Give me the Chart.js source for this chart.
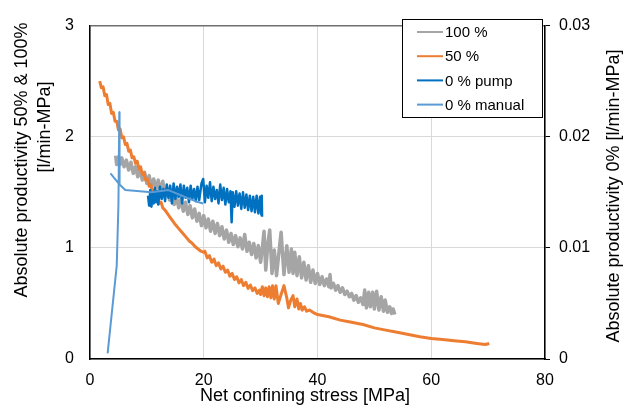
<!DOCTYPE html>
<html>
<head>
<meta charset="utf-8">
<script src="https://cdn.jsdelivr.net/npm/chart.js@4.4.1/dist/chart.umd.min.js"></script>
<style>
  html, body { margin: 0; padding: 0; background: #fff; }
  #wrap { position: relative; width: 625px; height: 410px; }
</style>
</head>
<body>
<div id="wrap"><canvas id="chart" width="625" height="410"></canvas></div>
<script>
// stress [MPa] / productivity
const grayX = [4.5, 4.7, 5.0, 5.3, 5.6, 6.0, 6.4, 6.8, 7.2, 7.6, 8.0, 8.4, 8.8, 9.2, 9.6, 10.0, 10.4, 10.8, 11.2, 11.6,
  12.0, 12.4, 12.8, 13.2, 13.6, 14.0, 14.4, 14.8, 15.2, 15.6, 16.0, 16.4, 16.8, 17.2, 17.6, 18.0, 18.4, 18.8, 19.2, 19.6,
  20.0, 20.4, 20.8, 21.2, 21.6, 22.0, 22.4, 22.8, 23.2, 23.6, 24.0, 24.4, 24.8, 25.2, 25.6, 26.0, 26.4, 26.8, 27.2, 27.6,
  28.0, 28.4, 28.8, 29.2, 29.6, 30.0, 30.3, 30.6, 30.9, 31.3, 31.6, 32.0, 32.4, 32.8, 33.2, 33.6, 34.1, 34.6, 35.0, 35.4,
  35.7, 36.0, 36.4, 36.8, 37.2, 37.6, 38.0, 38.4, 38.8, 39.2, 39.6, 40.0, 40.4, 40.8, 41.2, 41.6, 42.0, 42.2, 42.4, 42.8,
  43.2, 43.6, 44.0, 44.4, 44.8, 45.2, 45.6, 46.0, 46.4, 46.8, 47.2, 47.6, 48.0, 48.3, 48.6, 49.0, 49.3, 49.7, 50.0, 50.4,
  50.8, 51.2, 51.6, 51.9, 52.3, 52.7, 53.0, 53.3, 53.6];
const grayY = [1.83, 1.75, 1.82, 1.75, 1.81, 1.73, 1.79, 1.70, 1.77, 1.67, 1.73, 1.64, 1.70, 1.61, 1.68, 1.58, 1.65, 1.55, 1.62, 1.53,
  1.61, 1.50, 1.60, 1.47, 1.53, 1.43, 1.49, 1.39, 1.46, 1.36, 1.44, 1.33, 1.41, 1.30, 1.38, 1.27, 1.35, 1.24, 1.31, 1.20,
  1.29, 1.18, 1.26, 1.15, 1.24, 1.13, 1.22, 1.11, 1.19, 1.08, 1.16, 1.05, 1.13, 1.03, 1.11, 1.01, 1.09, 0.99, 1.12, 0.97,
  1.05, 0.94, 1.04, 0.91, 1.02, 0.87, 1.00, 1.15, 0.80, 1.05, 1.16, 0.77, 0.98, 0.75, 0.95, 1.14, 0.76, 1.02, 0.78, 0.99,
  0.77, 0.96, 0.75, 0.92, 0.73, 0.87, 0.71, 0.84, 0.69, 0.80, 0.68, 0.77, 0.67, 0.74, 0.66, 0.72, 0.65, 0.76, 0.64, 0.68,
  0.62, 0.66, 0.60, 0.64, 0.58, 0.61, 0.56, 0.59, 0.53, 0.57, 0.51, 0.55, 0.49, 0.62, 0.46, 0.60, 0.47, 0.60, 0.45, 0.61,
  0.44, 0.56, 0.43, 0.53, 0.42, 0.47, 0.41, 0.45, 0.40];

const orangeX = [1.7, 2.0, 2.3, 2.6, 2.9, 3.2, 3.5, 3.8, 4.1, 4.4, 4.7, 5.0, 5.3, 5.6, 5.9, 6.2, 6.5, 6.8, 7.1, 7.4,
  7.7, 8.0, 8.3, 8.6, 8.9, 9.2, 9.5, 9.8, 10.1, 10.4, 10.7, 11.0, 11.3, 11.6, 11.9, 12.2, 12.5, 12.8, 13.2, 13.6,
  14.0, 14.5, 15.0, 15.5, 16.0, 16.5, 17.0, 17.5, 18.0, 18.5, 19.0, 19.5, 20.0, 20.2, 20.6, 21.0, 21.4, 21.8, 22.2, 22.6,
  23.0, 23.4, 23.8, 24.2, 24.6, 25.0, 25.4, 25.8, 26.2, 26.6, 27.0, 27.4, 27.8, 28.2, 28.6, 29.0, 29.4, 29.8, 30.0, 30.3,
  30.6, 30.9, 31.2, 31.5, 31.8, 32.1, 32.4, 32.7, 33.1, 33.6, 34.1, 34.6, 34.9, 35.3, 35.7, 36.0, 36.4, 36.7, 37.0, 37.3,
  37.7, 38.1, 38.6, 39.2, 40.0, 42.0, 44.0, 46.0, 48.0, 50.0, 52.0, 54.0, 56.0, 58.0, 60.0, 62.0, 64.0, 66.0, 68.0, 69.5, 70.2];
const orangeY = [2.50, 2.44, 2.45, 2.37, 2.38, 2.29, 2.30, 2.21, 2.22, 2.14, 2.14, 2.06, 2.07, 1.99, 2.00, 1.93, 1.94, 1.87, 1.88, 1.81,
  1.82, 1.76, 1.78, 1.71, 1.73, 1.66, 1.675, 1.61, 1.62, 1.555, 1.57, 1.50, 1.515, 1.45, 1.465, 1.40, 1.41, 1.36, 1.34, 1.31,
  1.28, 1.245, 1.21, 1.18, 1.15, 1.12, 1.09, 1.06, 1.04, 1.01, 0.99, 0.97, 0.96, 0.97, 0.91, 0.93, 0.87, 0.90, 0.84, 0.865,
  0.81, 0.835, 0.78, 0.80, 0.745, 0.77, 0.715, 0.74, 0.685, 0.715, 0.66, 0.69, 0.635, 0.665, 0.615, 0.64, 0.59, 0.62, 0.58, 0.65,
  0.57, 0.64, 0.56, 0.65, 0.55, 0.66, 0.54, 0.66, 0.50, 0.58, 0.66, 0.55, 0.46, 0.53, 0.57, 0.47, 0.54, 0.45, 0.50, 0.44,
  0.47, 0.43, 0.44, 0.42, 0.40, 0.38, 0.35, 0.33, 0.31, 0.28, 0.26, 0.24, 0.22, 0.20, 0.185, 0.175, 0.165, 0.155, 0.14, 0.13, 0.14];

const pumpX = [10.2, 10.4, 10.6, 10.8, 11.0, 11.2, 11.4, 11.6, 11.8, 12.0, 12.3, 12.6, 12.9, 13.2, 13.5, 13.8, 14.1, 14.4, 14.7, 15.0,
  15.3, 15.6, 15.9, 16.2, 16.5, 16.8, 17.1, 17.4, 17.7, 18.0, 18.3, 18.6, 18.9, 19.2, 19.6, 19.9, 20.2, 20.5, 20.8, 21.1,
  21.4, 21.7, 22.0, 22.3, 22.6, 22.9, 23.2, 23.5, 23.8, 24.1, 24.4, 24.7, 24.9, 25.1, 25.4, 25.7, 26.0, 26.3, 26.6, 26.9,
  27.2, 27.5, 27.8, 28.1, 28.4, 28.7, 29.0, 29.3, 29.6, 29.9, 30.1, 30.2, 30.25];
const pumpY = [0.0147, 0.0138, 0.0152, 0.0137, 0.0150, 0.0140, 0.0154, 0.0141, 0.0151, 0.0139, 0.0155, 0.0144, 0.0153, 0.0142, 0.0157, 0.0145, 0.0156, 0.0140, 0.0158, 0.0144,
  0.0155, 0.0146, 0.0157, 0.0140, 0.0156, 0.0145, 0.0154, 0.0141, 0.0156, 0.0144, 0.0153, 0.0142, 0.0155, 0.0143, 0.0158, 0.0162, 0.0141, 0.0156, 0.0145, 0.0159,
  0.0142, 0.0155, 0.0144, 0.0152, 0.0140, 0.0157, 0.0143, 0.0154, 0.0139, 0.0153, 0.0141, 0.0151, 0.0123, 0.0150, 0.0137, 0.0151, 0.0138, 0.0149, 0.0135, 0.0150,
  0.0136, 0.0148, 0.0134, 0.0147, 0.0133, 0.0146, 0.0132, 0.0147, 0.0131, 0.0146, 0.0130, 0.0147, 0.0128];

const manualX = [3.6, 5.2, 5.2, 3.1, 4.7, 5.0, 5.15, 5.2, 6.2, 10.8, 13.8, 18.5, 19.9];
const manualY = [0.0167, 0.0157, null, 0.0005, 0.0084, 0.0139, 0.0222, 0.0157, 0.0152, 0.0150, 0.0152, 0.0142, 0.0140];

const xTicks = [0, 20, 40, 60, 80];
const yTicks = [0, 1, 2, 3];
const y1Ticks = [0, 0.01, 0.02, 0.03];
const y1Labels = ['0', '0.01', '0.02', '0.03'];

const FONT = '"Liberation Sans", Arial, sans-serif';

function pts(xs, ys) {
  return xs.map((x, i) => ({ x: x, y: ys[i] }));
}

const axisTitles = {
  id: 'axisTitles',
  afterDraw(chart) {
    const ctx = chart.ctx;
    ctx.save();
    ctx.fillStyle = '#000';
    ctx.font = '18px ' + FONT;
    ctx.textAlign = 'center';
    ctx.textBaseline = 'middle';
    ctx.fillText('Net confining stress [MPa]', 305, 396);

    const vertical = (text, x, y) => {
      ctx.save();
      ctx.translate(x, y);
      ctx.rotate(-Math.PI / 2);
      ctx.fillText(text, 0, 0);
      ctx.restore();
    };
    vertical('Absolute productivity 50% & 100%', 22, 160);
    vertical('[l/min-MPa]', 45, 127);
    vertical('Absolute productivity 0% [l/min-MPa]', 614, 196);
    ctx.restore();
  }
};

const boxLegend = {
  id: 'boxLegend',
  afterDraw(chart) {
    const ctx = chart.ctx;
    const left = 402, top = 19, w = 140, h = 98;
    ctx.save();
    ctx.fillStyle = '#fff';
    ctx.fillRect(left, top, w, h);
    ctx.strokeStyle = '#000';
    ctx.lineWidth = 1;
    ctx.strokeRect(left + 0.5, top + 0.5, w, h);
    ctx.font = '15px ' + FONT;
    ctx.textBaseline = 'middle';
    ctx.textAlign = 'left';
    chart.data.datasets.forEach((ds, i) => {
      const y = 32 + i * 24.2;
      ctx.strokeStyle = ds.borderColor;
      ctx.lineWidth = 2;
      ctx.beginPath();
      ctx.moveTo(417, y);
      ctx.lineTo(443, y);
      ctx.stroke();
      ctx.fillStyle = '#000';
      ctx.fillText(ds.label, 445, y + 1);
    });
    ctx.restore();
  }
};

new Chart(document.getElementById('chart'), {
  type: 'line',
  data: {
    datasets: [
      { label: '100 %', data: pts(grayX, grayY), borderColor: '#a5a5a5', borderWidth: 3.5, yAxisID: 'y', order: 4 },
      { label: '50 %', data: pts(orangeX, orangeY), borderColor: '#ed7d31', borderWidth: 3, yAxisID: 'y', order: 3 },
      { label: '0 % pump', data: pts(pumpX, pumpY), borderColor: '#0070c0', borderWidth: 2.5, yAxisID: 'y1', order: 2 },
      { label: '0 % manual', data: pts(manualX, manualY), borderColor: '#5b9bd5', borderWidth: 2, yAxisID: 'y1', order: 1 }
    ]
  },
  options: {
    responsive: false,
    animation: false,
    events: [],
    layout: { padding: { top: 16, left: 0, right: 0, bottom: 0 } },
    elements: {
      point: { radius: 0 },
      line: { tension: 0, fill: false, borderJoinStyle: 'round' }
    },
    plugins: {
      legend: { display: false },
      tooltip: { enabled: false }
    },
    scales: {
      x: {
        type: 'linear',
        min: 0,
        max: 80,
        afterFit: (s) => { s.height = 51; },
        afterBuildTicks: (s) => { s.ticks = xTicks.map(v => ({ value: v })); },
        ticks: { padding: 12, color: '#000', font: { family: FONT, size: 16 } },
        grid: { color: '#d9d9d9', drawTicks: false },
        border: { color: '#000', width: 1.5 }
      },
      y: {
        position: 'left',
        min: 0,
        max: 3,
        afterFit: (s) => { s.width = 90; },
        afterBuildTicks: (s) => { s.ticks = yTicks.map(v => ({ value: v })); },
        ticks: { padding: 16, color: '#000', font: { family: FONT, size: 16 } },
        grid: {
          drawTicks: false,
          color: (c) => (c.tick && c.tick.value === 3 ? '#707070' : '#d9d9d9'),
          lineWidth: (c) => (c.tick && c.tick.value === 3 ? 1.5 : 1)
        },
        border: { color: '#000', width: 1.5 }
      },
      y1: {
        position: 'right',
        min: 0,
        max: 0.03,
        afterFit: (s) => { s.width = 80; },
        afterBuildTicks: (s) => { s.ticks = y1Ticks.map(v => ({ value: v })); },
        ticks: {
          padding: 9,
          color: '#000',
          font: { family: FONT, size: 16 },
          callback: (v, i) => y1Labels[i]
        },
        grid: { drawOnChartArea: false, drawTicks: true, tickLength: 5, tickColor: '#000' },
        border: { color: '#000', width: 1.5 }
      }
    }
  },
  plugins: [axisTitles, boxLegend]
});
</script>
</body>
</html>
